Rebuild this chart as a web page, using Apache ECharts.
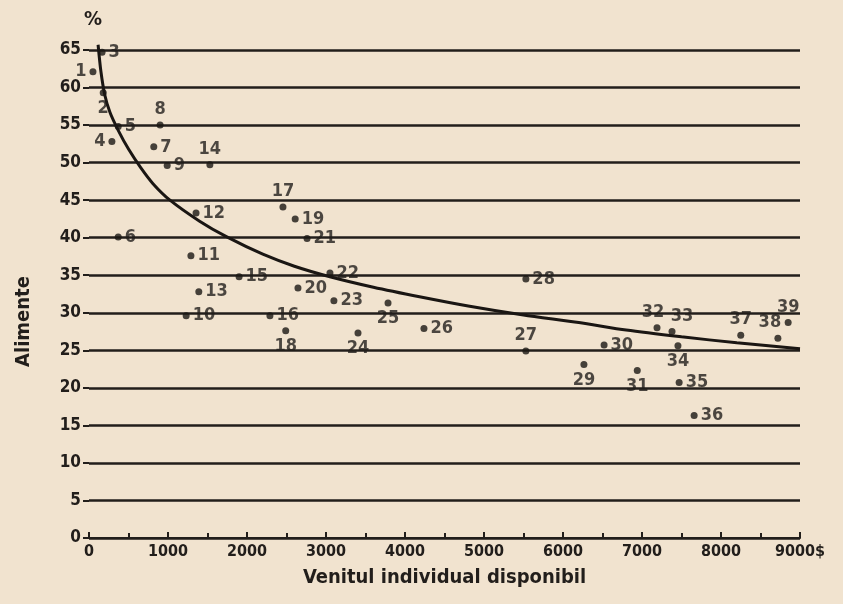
<!DOCTYPE html>
<html lang="ro">
<head>
  <meta charset="UTF-8">
  <script src="https://cdn.jsdelivr.net/npm/echarts@6/dist/echarts.min.js"></script>
  <title>Alimente</title>
  <style>
    html, body { margin: 0; padding: 0; background: #f1e3cf; }
    #chart { width: 843px; height: 604px; }
  </style>
</head>
<body>
  <div id="chart"></div>
  <script>
    // puncte (tari) – venit individual disponibil ($) si % cheltuieli pe alimente
    const pointIds = [1, 2, 3, 4, 5, 6, 7, 8, 9, 10, 11, 12, 13, 14, 15, 16, 17, 18, 19, 20,
      21, 22, 23, 24, 25, 26, 27, 28, 29, 30, 31, 32, 33, 34, 35, 36, 37, 38, 39];
    const incomes = [50, 180, 165, 290, 370, 370, 820, 900, 990, 1230, 1290, 1355, 1390, 1530, 1900, 2290, 2455, 2490, 2610, 2645,
      2760, 3050, 3100, 3405, 3785, 4240, 5530, 5530, 6265, 6520, 6940, 7190, 7380, 7455, 7470, 7660, 8250, 8720, 8850];
    const foodShare = [62.1, 59.3, 64.7, 52.8, 54.8, 40.1, 52.1, 55.0, 49.6, 29.6, 37.6, 43.3, 32.8, 49.7, 34.8, 29.6, 44.1, 27.6, 42.5, 33.3,
      39.9, 35.3, 31.6, 27.3, 31.3, 27.9, 24.9, 34.5, 23.1, 25.7, 22.3, 28.0, 27.5, 25.6, 20.7, 16.3, 27.0, 26.6, 28.7];

    // curba de ajustare
    const curveX = [115, 150, 200, 265, 370, 500, 650, 810, 1025, 1400, 1745, 2200, 2600, 3050, 3600, 4200, 4800, 5500, 6200, 6800, 7500, 8200, 9000];
    const curveY = [65.7, 62.2, 59.0, 56.7, 54.3, 51.8, 49.4, 47.2, 45.0, 42.2, 40.1, 37.8, 36.2, 34.8, 33.4, 32.1, 30.9, 29.7, 28.7, 27.7, 26.8, 26.0, 25.2];

    const labelPos = {
      1: 'left', 2: 'bottom', 4: 'left', 8: 'top', 14: 'top', 17: 'top', 18: 'bottom',
      24: 'bottom', 25: 'bottom', 27: 'top', 29: 'bottom', 31: 'bottom', 32: 'top',
      33: 'top', 34: 'bottom', 37: 'top', 38: 'top', 39: 'top'
    };
    const labelShift = { 32: [-4, 0], 33: [10, 0], 38: [-8, 0] };

    const font = '"DejaVu Sans Condensed", "Liberation Sans Narrow", sans-serif';
    const ink = '#221e1b';

    const points = pointIds.map((id, i) => ({
      value: [incomes[i], foodShare[i]],
      label: { position: labelPos[id] || 'right', offset: labelShift[id] || [0, 0] }
    }));

    const chart = echarts.init(document.getElementById('chart'));
    chart.setOption({
      backgroundColor: '#f1e3cf',
      animation: false,
      grid: { left: 89, right: 43, top: 50, bottom: 66 },
      graphic: [{
        type: 'text', left: 84, top: 10,
        style: { text: '%', font: 'bold 20px ' + font, fill: ink }
      }],
      xAxis: {
        type: 'value', min: 0, max: 9000, interval: 1000,
        name: 'Venitul individual disponibil',
        nameLocation: 'middle', nameGap: 30,
        nameTextStyle: { fontFamily: font, fontSize: 20, fontWeight: 'bold', color: ink },
        axisLine: { lineStyle: { color: ink, width: 2 } },
        axisTick: { inside: true, length: 6, lineStyle: { color: ink, width: 2 } },
        minorTick: { show: true, splitNumber: 2, length: 5, lineStyle: { color: ink, width: 2 } },
        axisLabel: {
          fontFamily: font, fontSize: 16, fontWeight: 'bold', color: ink, margin: 6,
          formatter: (v) => v === 9000 ? '9000$' : String(v)
        },
        splitLine: { show: false }
      },
      yAxis: {
        type: 'value', min: 0, max: 65, interval: 5,
        name: 'Alimente',
        nameLocation: 'middle', nameGap: 55, nameRotate: 90,
        nameTextStyle: { fontFamily: font, fontSize: 20, fontWeight: 'bold', color: ink, padding: [0, 0, 0, -55] },
        axisLine: { show: false },
        axisTick: { show: true, length: 6, lineStyle: { color: ink, width: 2 } },
        axisLabel: { fontFamily: font, fontSize: 17, fontWeight: 'bold', color: ink, margin: 8 },
        splitLine: { lineStyle: { color: ink, width: 2.5 } }
      },
      series: [
        {
          type: 'line',
          data: curveX.map((x, i) => [x, curveY[i]]),
          smooth: 0.25,
          showSymbol: false,
          clip: false,
          lineStyle: { color: '#1a1613', width: 3 }
        },
        {
          type: 'scatter',
          data: points,
          symbolSize: 7,
          itemStyle: { color: '#1a1613' },
          label: {
            show: true,
            distance: 3,
            formatter: (p) => String(pointIds[p.dataIndex]),
            fontFamily: font, fontSize: 18, fontWeight: 'bold', color: ink
          }
        }
      ]
    });
  </script>
</body>
</html>
